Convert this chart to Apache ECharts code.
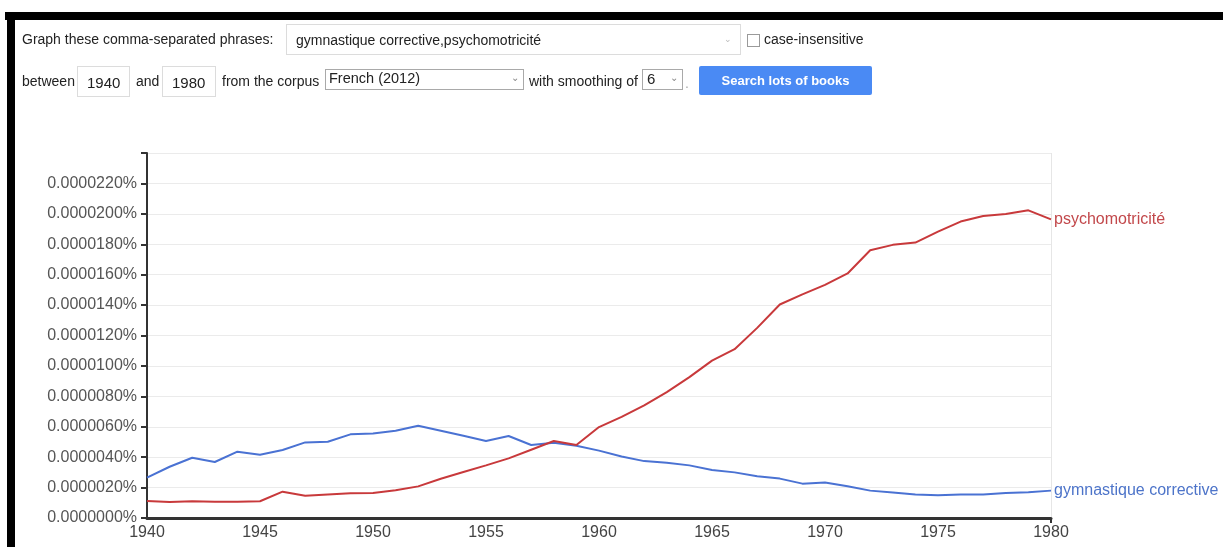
<!DOCTYPE html>
<html>
<head>
<meta charset="utf-8">
<script src="https://cdn.jsdelivr.net/npm/echarts@6/dist/echarts.min.js"></script>
<style>
  html,body{margin:0;padding:0;background:#fff;width:1223px;height:547px;overflow:hidden;font-family:Arial,"Liberation Sans",sans-serif;}
  #chart{position:absolute;left:0;top:0;width:1223px;height:547px;}
  .ui{position:absolute;font-size:14px;color:#222;white-space:nowrap;}
  .box{position:absolute;border:1px solid #dcdcdc;background:#fff;box-sizing:border-box;}
  .sel{position:absolute;border:1px solid #a9a9a9;background:#fff;box-sizing:border-box;}
</style>
</head>
<body>
<div id="chart"></div>
<!-- frame -->
<div style="position:absolute;left:5px;top:12px;width:1218px;height:8px;background:#000;"></div>
<div style="position:absolute;left:7px;top:12px;width:8px;height:535px;background:#000;"></div>

<!-- row 1 -->
<div class="ui" style="left:22px;top:31px;">Graph these comma-separated phrases:</div>
<div class="box" style="left:286px;top:24px;width:455px;height:31px;"></div>
<div class="ui" style="left:296px;top:32px;">gymnastique corrective,psychomotricité</div>
<div class="ui" style="left:724px;top:34px;color:#bbb;font-size:9px;">&#8964;</div>
<div style="position:absolute;left:747px;top:34px;width:13px;height:13px;border:1px solid #9a9a9a;box-sizing:border-box;background:#fff;"></div>
<div class="ui" style="left:764px;top:31px;">case-insensitive</div>

<!-- row 2 -->
<div class="ui" style="left:22px;top:73px;">between</div>
<div class="box" style="left:77px;top:66px;width:53px;height:31px;"></div>
<div class="ui" style="left:87px;top:74px;font-size:15px;">1940</div>
<div class="ui" style="left:136px;top:73px;">and</div>
<div class="box" style="left:162px;top:66px;width:54px;height:31px;"></div>
<div class="ui" style="left:172px;top:74px;font-size:15px;">1980</div>
<div class="ui" style="left:222px;top:73px;">from the corpus</div>
<div class="sel" style="left:325px;top:69px;width:199px;height:21px;"></div>
<div class="ui" style="left:329px;top:70px;font-size:14.5px;">French (2012)</div>
<div class="ui" style="left:511px;top:72px;color:#888;font-size:10px;">&#8964;</div>
<div class="ui" style="left:529px;top:73px;">with smoothing of</div>
<div class="sel" style="left:642px;top:69px;width:41px;height:21px;"></div>
<div class="ui" style="left:647px;top:70px;font-size:15px;">6</div>
<div class="ui" style="left:670px;top:72px;color:#888;font-size:10px;">&#8964;</div>
<div class="ui" style="left:685px;top:75px;color:#aaa;">.</div>
<div style="position:absolute;left:699px;top:66px;width:173px;height:29px;background:#4a8af4;border-radius:2px;color:#fff;font-weight:bold;font-size:13px;line-height:29px;text-align:center;">Search lots of books</div>

<script>
// Years
const years = [];
for (let y = 1940; y <= 1980; y++) years.push(y);

// Values in units of 1e-6 percent (0.000001%)
const UNIT = 1e-6;
const gymnastiqueCorrective = [
  2.65, 3.37, 3.96, 3.68, 4.36, 4.16, 4.47, 4.97, 5.01, 5.50,
  5.56, 5.74, 6.07, 5.74, 5.41, 5.06, 5.39, 4.80, 4.95, 4.75,
  4.43, 4.04, 3.74, 3.63, 3.46, 3.15, 3.00, 2.74, 2.59, 2.26,
  2.33, 2.09, 1.80, 1.67, 1.54, 1.50, 1.54, 1.54, 1.65, 1.70,
  1.80
];
const psychomotricite = [
  1.12, 1.05, 1.10, 1.07, 1.07, 1.10, 1.73, 1.47, 1.55, 1.62,
  1.64, 1.82, 2.08, 2.58, 3.02, 3.46, 3.92, 4.49, 5.06, 4.80,
  5.98, 6.65, 7.40, 8.28, 9.26, 10.35, 11.10, 12.50, 14.04, 14.70,
  15.33, 16.08, 17.61, 17.96, 18.11, 18.83, 19.49, 19.86, 19.99, 20.23,
  19.64
];
const seriesNames = ['gymnastique corrective', 'psychomotricité'];
const seriesColors = ['#4a72d3', '#c8393b'];
const labelColors = ['#4d74c9', '#c2484b'];
const FONT = 'Arial, "Liberation Sans", sans-serif';

const chart = echarts.init(document.getElementById('chart'), null, {renderer: 'canvas'});
const mk = (arr) => years.map((y, i) => [y, arr[i] * UNIT]);
const makeSeries = (name, arr, idx) => ({
  name: name,
  type: 'line',
  data: mk(arr),
  symbol: 'none',
  smooth: false,
  lineStyle: {color: seriesColors[idx], width: 2},
  itemStyle: {color: seriesColors[idx]},
  endLabel: {
    show: true,
    formatter: '{a}',
    color: labelColors[idx],
    fontSize: 16,
    fontFamily: FONT,
    distance: 3
  },
  animation: false
});

chart.setOption({
  animation: false,
  backgroundColor: 'transparent',
  grid: {left: 147, right: 172, top: 153, bottom: 29, containLabel: false},
  xAxis: {
    type: 'value',
    min: 1940, max: 1980, interval: 5,
    axisLine: {show: true, lineStyle: {color: '#333', width: 3}},
    axisTick: {show: true, customValues: [1980], length: 5, lineStyle: {color: '#333', width: 2}},
    splitLine: {show: true, lineStyle: {color: '#e6e6e6', width: 1}},
    axisLabel: {
      color: '#444', fontSize: 16, margin: 7,
      fontFamily: FONT,
      formatter: (v) => String(v)
    }
  },
  yAxis: {
    type: 'value',
    min: 0, max: 24 * UNIT, interval: 2 * UNIT,
    axisLine: {show: true, lineStyle: {color: '#333', width: 2}},
    axisTick: {show: true, length: 6, lineStyle: {color: '#333', width: 2}},
    splitLine: {show: true, lineStyle: {color: '#ebebeb', width: 1}},
    axisLabel: {
      color: '#555', fontSize: 16, margin: 10,
      fontFamily: FONT,
      formatter: (v) => (v > 23 * UNIT ? '' : v.toFixed(7) + '%')
    }
  },
  series: [
    makeSeries(seriesNames[0], gymnastiqueCorrective, 0),
    makeSeries(seriesNames[1], psychomotricite, 1)
  ]
});
</script>
</body>
</html>
